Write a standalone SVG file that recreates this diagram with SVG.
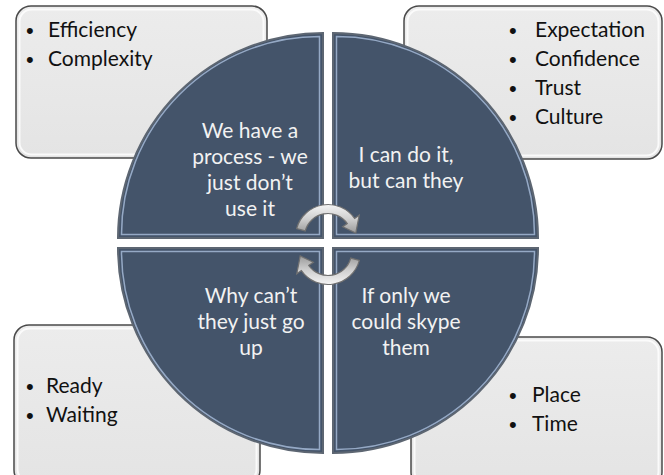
<svg xmlns="http://www.w3.org/2000/svg" width="664" height="475" viewBox="0 0 664 475">
<defs>
<linearGradient id="boxg" x1="0" y1="0" x2="0" y2="1">
<stop offset="0" stop-color="#ececec"/><stop offset="1" stop-color="#e4e4e4"/>
</linearGradient>
<linearGradient id="arrg" x1="0" y1="0" x2="0" y2="1">
<stop offset="0" stop-color="#f4f4f4"/><stop offset="0.5" stop-color="#d0d0d0"/><stop offset="1" stop-color="#9a9a9a"/>
</linearGradient>
<style>
.box{fill:url(#boxg);stroke:#4a4a4a;stroke-width:1.5}
.boxhi{fill:none;stroke:#ffffff;stroke-width:2;opacity:0.8}
.q{fill:#44546a;stroke:#5d6672;stroke-width:2}
.qhi{fill:none;stroke:#9fb3cf;stroke-width:1.5;opacity:0.9}
.qt{font-family:Lato,"Liberation Sans",sans-serif;font-size:21px;fill:#f2f2f2;text-anchor:middle}
.bt{font-family:Lato,"Liberation Sans",sans-serif;font-size:21px;fill:#111111}
.bu{font-family:"Liberation Sans",sans-serif;font-size:22px;fill:#111111}
.arr{fill:url(#arrg);stroke:#707070;stroke-width:1.1}
</style>
</defs>

<g id="box-tl">
<rect class="box" x="16" y="6" width="251" height="152" rx="15"/>
<rect class="boxhi" x="19.5" y="9.5" width="244" height="145" rx="12"/>
<text class="bu" x="26" y="38">•</text><text class="bt" x="48" y="37">Efficiency</text>
<text class="bu" x="26" y="67">•</text><text class="bt" x="48" y="66">Complexity</text>
</g>

<g id="box-tr">
<rect class="box" x="404" y="6" width="258" height="153" rx="15"/>
<rect class="boxhi" x="407.5" y="9.5" width="251" height="146" rx="12"/>
<text class="bu" x="509" y="38">•</text><text class="bt" x="535" y="37">Expectation</text>
<text class="bu" x="509" y="67">•</text><text class="bt" x="535" y="66">Confidence</text>
<text class="bu" x="509" y="96">•</text><text class="bt" x="535" y="95">Trust</text>
<text class="bu" x="509" y="125">•</text><text class="bt" x="535" y="124">Culture</text>
</g>

<g id="box-bl">
<rect class="box" x="14" y="325" width="246" height="160" rx="15"/>
<rect class="boxhi" x="17.5" y="328.5" width="239" height="153" rx="12"/>
<text class="bu" x="26" y="394">•</text><text class="bt" x="46" y="393">Ready</text>
<text class="bu" x="26" y="423">•</text><text class="bt" x="46" y="422">Waiting</text>
</g>

<g id="box-br">
<rect class="box" x="411" y="337" width="251" height="150" rx="15"/>
<rect class="boxhi" x="414.5" y="340.5" width="244" height="143" rx="12"/>
<text class="bu" x="509" y="403">•</text><text class="bt" x="532" y="402">Place</text>
<text class="bu" x="509" y="432">•</text><text class="bt" x="532" y="431">Time</text>
</g>

<g id="q-tl">
<path class="q" d="M323 238 L118 238 A205 205 0 0 1 323 33 Z"/>
<path class="qhi" d="M319.5 234.5 L121.5 234.5 A198 198 0 0 1 319.5 36.5 Z"/>
<text class="qt" x="250" y="138">We have a</text>
<text class="qt" x="250" y="164">process - we</text>
<text class="qt" x="250" y="190">just don’t</text>
<text class="qt" x="250" y="216">use it</text>
</g>

<g id="q-tr">
<path class="q" d="M333 238 L333 33 A205 205 0 0 1 538 238 Z"/>
<path class="qhi" d="M336.5 234.5 L336.5 36.5 A198 198 0 0 1 534.5 234.5 Z"/>
<text class="qt" x="406" y="162">I can do it,</text>
<text class="qt" x="406" y="188">but can they</text>
</g>

<g id="q-bl">
<path class="q" d="M323 248 L323 453 A205 205 0 0 1 118 248 Z"/>
<path class="qhi" d="M319.5 251.5 L319.5 449.5 A198 198 0 0 1 121.5 251.5 Z"/>
<text class="qt" x="251" y="303">Why can’t</text>
<text class="qt" x="251" y="329">they just go</text>
<text class="qt" x="251" y="355">up</text>
</g>

<g id="q-br">
<path class="q" d="M333 248 L538 248 A205 205 0 0 1 333 453 Z"/>
<path class="qhi" d="M336.5 251.5 L534.5 251.5 A198 198 0 0 1 336.5 449.5 Z"/>
<text class="qt" x="406" y="303">If only we</text>
<text class="qt" x="406" y="329">could skype</text>
<text class="qt" x="406" y="355">them</text>
</g>

<g id="connectors">
<path id="arrow-top" class="arr" transform="translate(328 237) scale(1.12) translate(-328 -237)" d="M300 229.5 A29 29 0 0 1 351.8 220.4 L355.9 217.5 L352.8 233.5 L341.1 227.8 L345.2 225 A21 21 0 0 0 307.7 231.6 Z"/>
<path id="arrow-bottom" class="arr" transform="rotate(180 328 244.5) translate(328 237) scale(1.12) translate(-328 -237)" d="M300 229.5 A29 29 0 0 1 351.8 220.4 L355.9 217.5 L352.8 233.5 L341.1 227.8 L345.2 225 A21 21 0 0 0 307.7 231.6 Z"/>
</g>
</svg>
